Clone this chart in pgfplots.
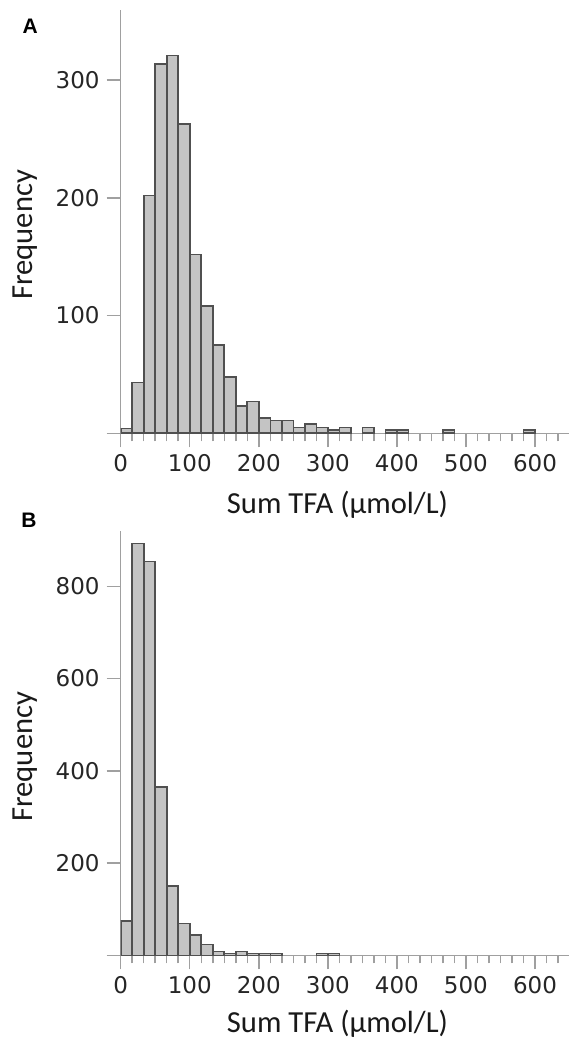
\documentclass[border=0pt]{standalone}
\usepackage{pgfplots}
\pgfplotsset{compat=1.18}
\usepackage{fontspec}
\setmainfont{Carlito}
\newfontfamily\tickfont{DejaVu Sans}
\newfontfamily\panelfont{Liberation Sans}
\definecolor{axgray}{HTML}{A0A0A0}
\definecolor{barfill}{HTML}{C4C4C4}
\definecolor{baredge}{HTML}{505050}
\pgfplotsset{
  histo/.style={
    scale only axis, width=224.4pt,
    xmin=0, xmax=650, ymin=0,
    axis x line=bottom, axis y line=left,
    axis line style={-, axgray, line width=0.75pt},
    tick align=outside,
    major tick length=7pt, minor tick length=4pt,
    tick style={axgray, line width=0.75pt},
    xtick={0,100,200,300,400,500,600},
    minor xtick={0,16.6667,...,650},
    tick label style={font=\tickfont\fontsize{11.5}{12}\selectfont, text=black!85},
    /pgf/number format/assume math mode=true,
    xlabel={Sum TFA (µmol/L)},
    ylabel={Frequency},
    label style={font=\fontsize{15.3}{16}\selectfont, text=black!90},
    ylabel style={at={(axis description cs:-0.212,0.468)}, anchor=center},
  },
  bars/.style={ybar, bar width=16.6667, bar shift=0pt, fill=barfill, draw=baredge, line width=0.8pt},
}
\begin{document}
\begin{tikzpicture}
\path[use as bounding box] (0,0) rectangle (284pt,521.5pt);
% Panel A
\begin{axis}[histo, at={(60.35pt,304.85pt)}, anchor=south west,
  height=211.85pt, ymax=360,
  ytick={0,100,200,300}, yticklabels={,100,200,300},
  xlabel style={at={(axis description cs:0.483,-0.19)}, anchor=base}]
\addplot[bars] table {
x y
8.3333 4
25 43
41.6667 202
58.3333 314
75 321
91.6667 263
108.3333 152
125 108
141.6667 75
158.3333 48
175 23
191.6667 27
208.3333 13
225 11
241.6667 11
258.3333 5
275 8
291.6667 5
308.3333 3
325 5
358.3333 5
391.6667 3
408.3333 3
475 3
591.6667 3
};
\end{axis}
% Panel B
\begin{axis}[histo, at={(60.35pt,43.75pt)}, anchor=south west,
  height=212.3pt, ymax=920,
  ytick={0,200,400,600,800}, yticklabels={,200,400,600,800},
  xlabel style={at={(axis description cs:0.483,-0.181)}, anchor=base}]
\addplot[bars] table {
x y
8.3333 75
25 893
41.6667 854
58.3333 365
75 151
91.6667 69
108.3333 45
125 24
141.6667 9
158.3333 4
175 9
191.6667 4
208.3333 4
225 4
291.6667 4
308.3333 4
};
\end{axis}
\node[font=\panelfont\bfseries\fontsize{10.5}{12}\selectfont, anchor=west] at (7.8pt,508.3pt) {A};
\node[font=\panelfont\bfseries\fontsize{10.5}{12}\selectfont, anchor=west] at (7.2pt,261.5pt) {B};
\end{tikzpicture}
\end{document}
